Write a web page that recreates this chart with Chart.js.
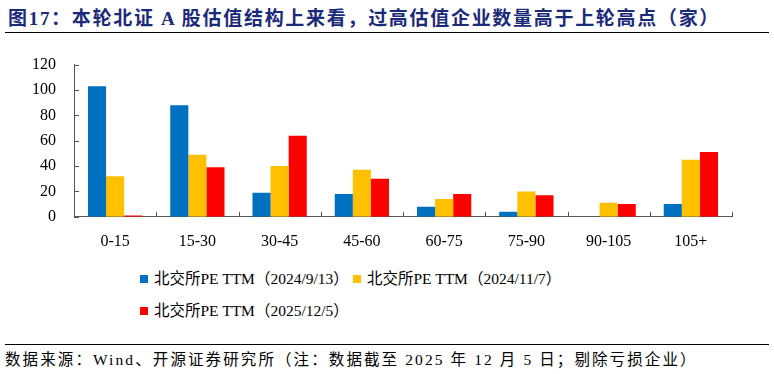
<!DOCTYPE html>
<html>
<head>
<meta charset="utf-8">
<script src="https://cdn.jsdelivr.net/npm/chart.js@4.4.1/dist/chart.umd.min.js"></script>
<style>
  body { margin: 0; width: 774px; height: 374px; background: #fff; position: relative; overflow: hidden;
         font-family: "Liberation Serif", "Noto Sans CJK SC", serif; color: #000; }
  #title { position: absolute; left: 8px; top: 3px; font-size: 19px; letter-spacing: 1.7px; font-weight: bold; color: #1c2a7a; white-space: nowrap; }
  #titleLine { position: absolute; left: 5px; right: 5px; top: 32px; border-top: 1px solid #000; }
  #box { position: absolute; left: 0; top: 45px; width: 774px; height: 213px; }
  #legend { position: absolute; left: 140px; top: 266px; font-size: 15.5px; }
  .item { position: absolute; white-space: nowrap; }
  .sw { display: inline-block; width: 8px; height: 8px; margin-right: 6px; vertical-align: 1px; }
  #footLine { position: absolute; left: 5px; right: 5px; top: 344px; border-top: 1px solid #000; }
  #foot { position: absolute; left: 5px; top: 347px; font-size: 15.5px; letter-spacing: 2.1px; white-space: nowrap; }
</style>
</head>
<body>
<div id="title">图17：本轮北证 A 股估值结构上来看，过高估值企业数量高于上轮高点（家）</div>
<div id="titleLine"></div>
<div id="box"><canvas id="myChart"></canvas></div>
<div id="legend"></div>
<div id="footLine"></div>
<div id="foot">数据来源：Wind、开源证券研究所（注：数据截至 2025 年 12 月 5 日；剔除亏损企业）</div>
<script>
var categories = ['0-15', '15-30', '30-45', '45-60', '60-75', '75-90', '90-105', '105+'];
var seriesNames = ['北交所PE TTM（2024/9/13）', '北交所PE TTM（2024/11/7）', '北交所PE TTM（2025/12/5）'];
var sep2024 = [103, 88, 19, 18, 8, 4, 0, 10];
var nov2024 = [32, 49, 40, 37, 14, 20, 11, 45];
var dec2025 = [1, 39, 64, 30, 18, 17, 10, 51];
var yTicks = [0, 20, 40, 60, 80, 100, 120];
var colors = ['#0070C0', '#FFC000', '#FF0000'];

var fontFam = '"Liberation Serif", "Noto Sans CJK SC", serif';

// ticks drawn inward like the original
var innerTicks = {
    id: 'innerTicks',
    afterDraw: function(chart) {
        var ctx = chart.ctx, a = chart.chartArea, x = chart.scales.x, y = chart.scales.y;
        ctx.save();
        ctx.strokeStyle = '#555';
        ctx.lineWidth = 1;
        ctx.beginPath();
        yTicks.forEach(function(v) {
            var py = Math.round(y.getPixelForValue(v)) + 0.5;
            ctx.moveTo(a.left, py);
            ctx.lineTo(a.left + 5, py);
        });
        var half = (x.getPixelForValue(1) - x.getPixelForValue(0)) / 2;
        for (var i = 0; i <= categories.length; i++) {
            var px = Math.round(x.getPixelForValue(i) - half) + 0.5;
            ctx.moveTo(px, a.bottom);
            ctx.lineTo(px, a.bottom - 5);
        }
        ctx.stroke();
        ctx.restore();
    }
};

var data = [sep2024, nov2024, dec2025];
var ctx = document.getElementById('myChart').getContext('2d');
var myChart = new Chart(ctx, {
    type: 'bar',
    data: {
        labels: categories,
        datasets: data.map(function(d, i) {
            return {
                label: seriesNames[i],
                data: d,
                backgroundColor: colors[i],
                borderWidth: 0,
                categoryPercentage: 0.66,
                barPercentage: 1
            };
        })
    },
    options: {
        responsive: true,
        maintainAspectRatio: false,
        animation: false,
        layout: { padding: { left: 22, right: 42, top: 6, bottom: 0 } },
        plugins: {
            legend: { display: false },
            tooltip: { enabled: false }
        },
        scales: {
            x: {
                grid: { display: false },
                border: { display: true, color: '#555', width: 1 },
                ticks: { color: '#000', font: { family: fontFam, size: 16 }, padding: 7 }
            },
            y: {
                min: 0,
                max: 120,
                afterBuildTicks: function(s) { s.ticks = yTicks.map(function(v) { return { value: v }; }); },
                grid: { display: false },
                border: { display: true, color: '#555', width: 1 },
                ticks: { color: '#000', font: { family: fontFam, size: 16 }, padding: 10 }
            }
        }
    },
    plugins: [innerTicks]
});

var leg = document.getElementById('legend');
var pos = [[0, 0], [213, 0], [0, 32]];
seriesNames.forEach(function(n, i) {
    var el = document.createElement('div');
    el.className = 'item';
    el.style.left = pos[i][0] + 'px';
    el.style.top = pos[i][1] + 'px';
    el.innerHTML = '<span class="sw" style="background:' + colors[i] + '"></span>' + n;
    leg.appendChild(el);
});
</script>
</body>
</html>
